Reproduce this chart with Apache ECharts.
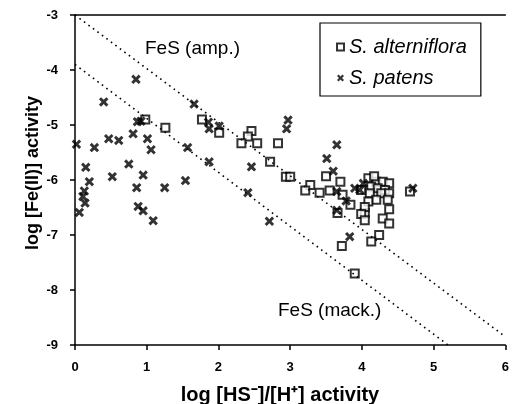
<!DOCTYPE html>
<html><head><meta charset="utf-8">
<script src="https://cdn.jsdelivr.net/npm/echarts@6/dist/echarts.min.js"></script>
<style>html,body{margin:0;padding:0;background:#fff}#c{width:512px;height:404px}</style>
</head><body><div id="c"></div>
<script>
var xTicks = [0, 1, 2, 3, 4, 5, 6];
var yTicks = [-9, -8, -7, -6, -5, -4, -3];
var alterniflora = [
  [0.98,-4.90],[1.26,-5.05],[1.77,-4.90],[2.01,-5.14],[2.46,-5.11],[2.41,-5.21],[2.32,-5.33],[2.54,-5.33],
  [2.83,-5.33],[2.72,-5.67],[2.94,-5.94],[3.00,-5.94],[3.50,-5.93],[3.28,-6.09],[3.21,-6.19],[3.41,-6.23],
  [3.55,-6.19],[3.70,-6.03],[3.73,-6.27],[3.84,-6.45],[3.66,-6.60],[3.99,-6.18],[4.04,-6.60],[3.72,-7.20],
  [3.90,-7.70],[4.67,-6.21],[4.09,-5.97],[4.20,-6.03],[4.29,-6.03],[4.38,-6.06],[4.13,-6.12],[4.22,-6.15],
  [4.32,-6.18],[4.11,-6.24],[4.27,-6.24],[4.38,-6.24],[4.20,-6.36],[4.09,-6.39],[4.36,-6.36],[4.04,-6.49],
  [4.38,-6.53],[3.99,-6.62],[4.04,-6.73],[4.29,-6.70],[4.38,-6.79],[4.24,-7.00],[4.13,-7.12],[4.17,-5.93]
];
var patens = [
  [0.85,-4.17],[0.40,-4.58],[0.87,-4.94],[0.92,-4.93],[1.66,-4.62],[1.86,-4.95],[1.87,-5.07],[2.01,-5.02],
  [0.02,-5.35],[0.27,-5.41],[0.47,-5.25],[0.61,-5.28],[0.81,-5.16],[1.01,-5.25],[1.06,-5.45],[0.15,-5.77],
  [0.75,-5.71],[0.52,-5.94],[0.95,-5.91],[0.20,-6.03],[0.86,-6.14],[1.25,-6.14],[0.13,-6.20],[0.11,-6.30],
  [0.14,-6.42],[0.06,-6.59],[0.88,-6.48],[0.95,-6.56],[1.09,-6.74],[1.57,-5.41],[1.87,-5.67],[1.54,-6.01],
  [2.41,-6.23],[2.71,-6.75],[2.97,-4.91],[2.95,-5.07],[2.46,-5.76],[3.65,-5.36],[3.51,-5.61],[3.60,-5.84],
  [3.65,-6.21],[3.78,-6.38],[3.65,-6.55],[3.90,-6.15],[3.83,-7.03],[4.71,-6.15],[3.97,-6.18],[4.02,-6.06]
];
var ampLine = [[0, -3.0], [6, -8.85]];
var mackLine = [[0, -3.9], [5.2, -9.0]];
var seriesNames = ['S. alterniflora', 'S. patens'];
var lineLabels = ['FeS (amp.)', 'FeS (mack.)'];

var crossPath = 'path://M0,2.2 L2.2,0 L5,2.8 L7.8,0 L10,2.2 L7.2,5 L10,7.8 L7.8,10 L5,7.2 L2.2,10 L0,7.8 L2.8,5 Z';
var font = 'Liberation Sans, Arial, Helvetica, sans-serif';
var chart = echarts.init(document.getElementById('c'));
chart.setOption({
  animation: false,
  backgroundColor: '#fff',
  grid: { left: 75, right: 1, top: 15, bottom: 59 },
  xAxis: [{
    type: 'value', min: 0, max: 6, interval: 1,
    axisLine: { show: true, onZero: false, lineStyle: { color: '#000', width: 1.5 } },
    axisTick: { show: true, length: 5, lineStyle: { color: '#000', width: 1.5 } },
    axisLabel: { color: '#000', fontSize: 13, fontWeight: 'bold', fontFamily: font, margin: 16 },
    splitLine: { show: false }
  }, {
    type: 'value', min: 0, max: 6, position: 'top',
    axisLine: { show: true, onZero: false, lineStyle: { color: '#000', width: 1.5 } },
    axisTick: { show: false }, axisLabel: { show: false }, splitLine: { show: false }
  }],
  yAxis: {
    type: 'value', min: -9, max: -3, interval: 1,
    axisLine: { show: true, onZero: false, lineStyle: { color: '#000', width: 1.5 } },
    axisTick: { show: true, length: 5, lineStyle: { color: '#000', width: 1.5 } },
    axisLabel: { color: '#000', fontSize: 13, fontWeight: 'bold', fontFamily: font, margin: 17 },
    splitLine: { show: false }
  },
  legend: {
    orient: 'vertical', left: 320, top: 23,
    borderColor: '#000', borderWidth: 1.2, borderRadius: 0,
    padding: [14, 14, 8, 16], itemGap: 11, itemWidth: 7, itemHeight: 7,
    textStyle: { fontStyle: 'italic', fontSize: 20, fontFamily: font, color: '#000' },
    data: seriesNames
  },
  series: [{
    name: lineLabels[0], type: 'line', data: ampLine, symbol: 'none',
    lineStyle: { color: '#000', width: 1.6, type: [1.6, 4] }, silent: true
  }, {
    name: lineLabels[1], type: 'line', data: mackLine, symbol: 'none',
    lineStyle: { color: '#000', width: 1.6, type: [1.6, 4] }, silent: true
  }, {
    name: seriesNames[0], type: 'scatter', data: alterniflora, symbol: 'rect', symbolSize: 8,
    itemStyle: { color: '#fff', borderColor: '#000', borderWidth: 2 }
  }, {
    name: seriesNames[1], type: 'scatter', data: patens, symbol: crossPath, symbolSize: 9.5,
    itemStyle: { color: '#000' }
  }],
  graphic: [
    { type: 'text', left: 145, top: 39, style: { text: lineLabels[0], font: '19px ' + font, fill: '#000' } },
    { type: 'text', left: 278, top: 301, style: { text: lineLabels[1], font: '19px ' + font, fill: '#000' } },
    { type: 'text', x: 280, y: 395, style: { text: 'log [HS\u207B]/[H\u207A] activity', font: 'bold 20px ' + font, fill: '#000', align: 'center', verticalAlign: 'middle' } },
    { type: 'text', x: 33, y: 173, rotation: Math.PI / 2, style: { text: 'log [Fe(II)] activity', font: 'bold 18px ' + font, fill: '#000', align: 'center', verticalAlign: 'middle' } }
  ]
});
</script></body></html>
